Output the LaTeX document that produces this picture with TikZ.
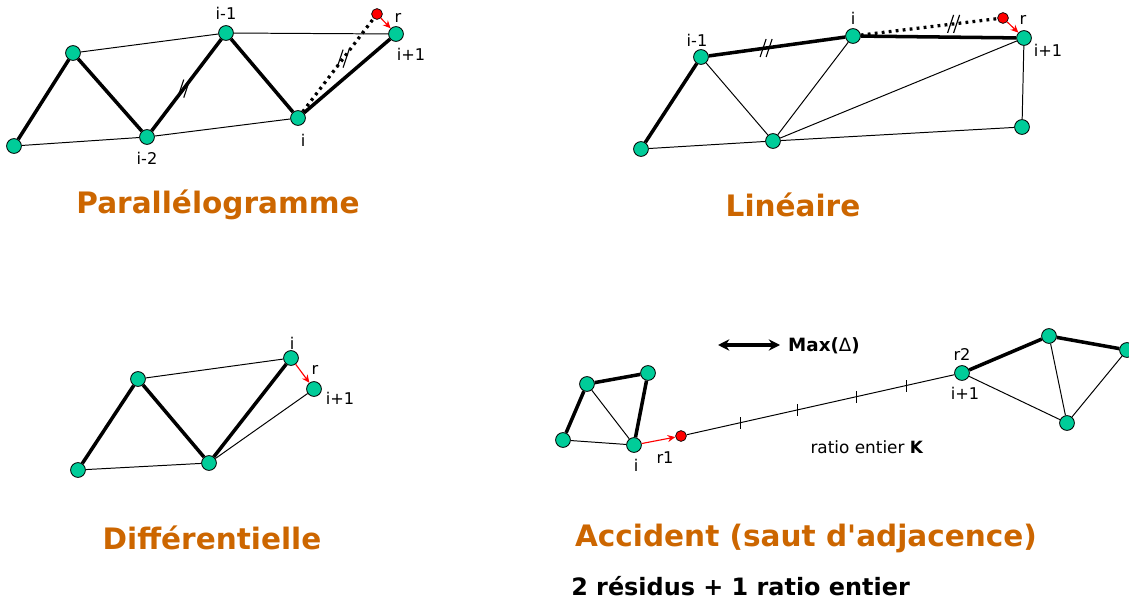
\documentclass[tikz,border=0pt]{standalone}
\usepackage{fontspec}
\setmainfont{DejaVu Sans}
\usetikzlibrary{arrows.meta,positioning,calc}

\definecolor{vert}{RGB}{0,204,153}
\definecolor{orangetitre}{RGB}{204,102,0}

\tikzset{
  som/.style={circle,draw=black,line width=0.6pt,fill=vert,minimum size=0.37cm,inner sep=0pt},
  res/.style={circle,draw=black,line width=0.5pt,fill=red,minimum size=0.27cm,inner sep=0pt},
  fort/.style={line width=2.5pt},
  fin/.style={line width=0.7pt},
  pointille/.style={line width=2.3pt,dash pattern=on 2pt off 3pt},
  fleche/.style={red,line width=0.8pt,-{Stealth[length=5.5pt,width=5pt]}},
  lbl/.style={font=\fontsize{11.5}{13}\selectfont,inner sep=0pt},
  titre/.style={font=\fontsize{21}{25}\selectfont\bfseries,text=orangetitre,inner sep=0pt},
  dbltick/.pic={\draw[line width=0.8pt] (-6,9) -- (0,-9) (0,9) -- (6,-9);},
  tick/.pic={\draw[line width=0.7pt] (0,6) -- (0,-6);}
}

\begin{document}
\begin{tikzpicture}[x=0.025cm, y=-0.025cm]
  \useasboundingbox (0,0) rectangle (1129,602);

  % Parallelogramme
  \node[som] (p1) at (14,146) {};
  \node[som] (p2) at (73,53) {};
  \node[som] (p3) at (147,137) {};
  \node[som] (p4) at (226,33) {};
  \node[som] (p5) at (298,118) {};
  \node[som] (p6) at (396,34) {};
  \node[res] (pr) at (377,14) {};
  \draw[fin] (p1) -- (p3) -- (p5);
  \draw[fin] (p2) -- (p4) -- (p6);
  \draw[fort] (p1) -- (p2);
  \draw[fort] (p2) -- (p3);
  \draw[fort] (p3) -- coordinate[pos=.46] (pt1) (p4);
  \draw[fort] (p4) -- (p5);
  \draw[fort] (p5) -- (p6);
  \draw[pointille] (p5) -- coordinate[pos=.57] (pt2) (pr);
  \pic at (pt1) {dbltick};
  \pic at (pt2) {dbltick};
  \draw[fleche] (pr) -- (p6);
  \node[lbl] (pl3) at (147,158) {i-2};
  \node[lbl] (pl4) at (226,13) {i-1};
  \node[lbl] (pl5) at (303,140) {i};
  \node[lbl] (pl6) at (411,54) {i+1};
  \node[lbl] (plr) at (398,18) {r};
  \node[titre] (tp) at (218,205) {Parallélogramme};

  % Lineaire
  \node[som] (l1) at (641,149) {};
  \node[som] (l2) at (701,57) {};
  \node[som] (l3) at (773,141) {};
  \node[som] (l4) at (853,36) {};
  \node[som] (l5) at (1024,38) {};
  \node[som] (l6) at (1022,127) {};
  \node[res] (lr) at (1003,18) {};
  \draw[fin] (l2) -- (l3) -- (l4);
  \draw[fin] (l1) -- (l3) -- (l6) -- (l5) -- (l3);
  \draw[fort] (l1) -- (l2);
  \draw[fort] (l2) -- coordinate[pos=.42] (lt1) (l4);
  \draw[fort] (l4) -- (l5);
  \draw[pointille] (l4) -- coordinate[pos=.68] (lt2) (lr);
  \pic at (lt1) {dbltick};
  \pic at (lt2) {dbltick};
  \draw[fleche] (lr) -- (l5);
  \node[lbl] (ll2) at (697,40) {i-1};
  \node[lbl] (ll4) at (853,18) {i};
  \node[lbl] (ll5) at (1048,50) {i+1};
  \node[lbl] (llr) at (1023,20) {r};
  \node[titre] (tl) at (793,205) {Linéaire};

  % Differentielle
  \node[som] (d1) at (78,470) {};
  \node[som] (d2) at (138,379) {};
  \node[som] (d3) at (209,463) {};
  \node[som] (d4) at (291,358) {};
  \node[som] (d5) at (314,389) {};
  \draw[fin] (d1) -- (d3) -- (d5);
  \draw[fin] (d2) -- (d4);
  \draw[fort] (d1) -- (d2) -- (d3) -- (d4);
  \draw[fleche] (d4) -- (d5);
  \node[lbl] (dl4) at (292,343) {i};
  \node[lbl] (dlr) at (315,370) {r};
  \node[lbl] (dl5) at (340,398) {i+1};
  \node[titre] (td) at (212,538) {Différentielle};

  % Accident
  \node[som] (a1) at (563,440) {};
  \node[som] (a2) at (587,384) {};
  \node[som] (a3) at (648,373) {};
  \node[som] (a4) at (634,445) {};
  \node[res] (ar) at (681,436) {};
  \node[som] (b1) at (962,373) {};
  \node[som] (b2) at (1049,336) {};
  \node[som] (b3) at (1127,350) {};
  \node[som] (b4) at (1067,423) {};
  \draw[fin] (a1) -- (a4) -- (a2);
  \draw[fort] (a1) -- (a2) -- (a3) -- (a4);
  \draw[fin] (b1) -- (b4) -- (b2);
  \draw[fin] (b4) -- (b3);
  \draw[fort] (b1) -- (b2) -- (b3);
  \draw[fin] (ar) -- coordinate[pos=.2] (k1) coordinate[pos=.415] (k2)
    coordinate[pos=.635] (k3) coordinate[pos=.82] (k4) (b1);
  \foreach \k in {k1,k2,k3,k4}
    \pic at (\k) {tick};
  \draw[fleche] (a4) -- (ar);
  \node[lbl] (al4) at (636,465) {i};
  \node[lbl] (alr) at (665,458) {r1};
  \node[lbl] (bl1) at (962,354) {r2};
  \node[lbl] (bl2) at (965,393) {i+1};
  \coordinate (m1) at (718,345);
  \coordinate (m2) at (780,345);
  \draw[line width=2.2pt,{Stealth[length=8pt,width=8pt]}-{Stealth[length=8pt,width=8pt]}] (m1) -- (m2);
  \node[font=\fontsize{13}{15}\selectfont\bfseries,inner sep=0pt] (max) at (824,346) {Max({\mdseries Δ})};
  \node[font=\fontsize{12}{14}\selectfont,inner sep=0pt] (ratio) at (867,447) {ratio entier \textbf{K}};
  \node[titre] (ta) at (806,538) {Accident (saut d\textquotesingle adjacence)};
  \node[anchor=west,font=\fontsize{17}{20}\selectfont\bfseries,inner sep=0pt] (bilan) at (571,586) {2 résidus + 1 ratio entier};
\end{tikzpicture}
\end{document}
